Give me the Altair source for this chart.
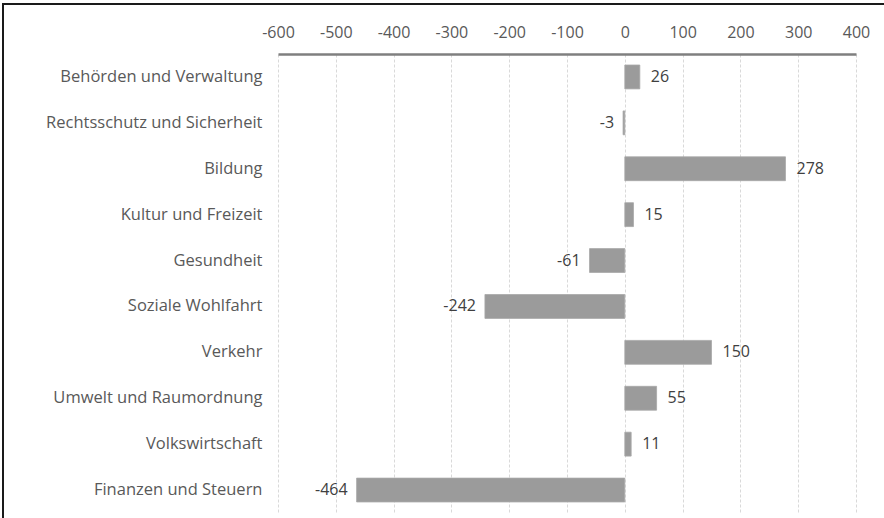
import altair as alt
import pandas as pd

# Change per policy area
categories = [
    "Behörden und Verwaltung",
    "Rechtsschutz und Sicherheit",
    "Bildung",
    "Kultur und Freizeit",
    "Gesundheit",
    "Soziale Wohlfahrt",
    "Verkehr",
    "Umwelt und Raumordnung",
    "Volkswirtschaft",
    "Finanzen und Steuern",
]
values = [26, -3, 278, 15, -61, -242, 150, 55, 11, -464]
x_ticks = [-600, -500, -400, -300, -200, -100, 0, 100, 200, 300, 400]

df = pd.DataFrame({"Bereich": categories, "Wert": values})

FONT = "Open Sans"
FS = 16
FS_CAT = 16.5
W, H = 578, 459

x_enc = alt.X(
    "Wert:Q",
    scale=alt.Scale(domain=[-600, 400], nice=False),
    axis=alt.Axis(
        orient="top",
        values=x_ticks,
        labelExpr="toString(datum.value)",
        labelFlush=False,
        labelOverlap=False,
        title=None,
        grid=True,
        gridColor="#d9d9d9",
        gridDash=[3, 2],
        gridWidth=1,
        domainColor="#7f7f7f",
        domainWidth=2.5,
        ticks=False,
        labelColor="#595959",
        labelFont=FONT,
        labelFontSize=FS,
        labelPadding=14,
    ),
)
y_enc = alt.Y(
    "Bereich:N",
    sort=categories,
    scale=alt.Scale(paddingInner=0.48, paddingOuter=0.24),
    axis=alt.Axis(
        title=None,
        domain=False,
        ticks=False,
        labelColor="#595959",
        labelFont=FONT,
        labelFontSize=FS_CAT,
        labelPadding=16,
        labelLimit=300,
    ),
)

base = alt.Chart(df).transform_calculate(Label="toString(datum.Wert)")

bars = base.mark_bar(color="#9b9b9b", stroke="#a8a8a8", strokeWidth=0.8).encode(
    x=x_enc, y=y_enc
)

labels_pos = base.transform_filter("datum.Wert >= 0").mark_text(
    align="left", dx=11, font=FONT, fontSize=FS, color="#404040"
).encode(x="Wert:Q", y=alt.Y("Bereich:N", sort=categories), text="Label:N")

labels_neg = base.transform_filter("datum.Wert < 0").mark_text(
    align="right", dx=-9, font=FONT, fontSize=FS, color="#404040"
).encode(x="Wert:Q", y=alt.Y("Bereich:N", sort=categories), text="Label:N")

# Frame along the top and left edge of the figure
frame_top = base.mark_rule(color="#1a1a1a", strokeWidth=2).encode(
    x=alt.value(-275), x2=alt.value(640), y=alt.value(-50)
)
frame_left = base.mark_rule(color="#1a1a1a", strokeWidth=2).encode(
    x=alt.value(-275), y=alt.value(-51), y2=alt.value(480)
)

chart = (
    alt.layer(bars, labels_pos, labels_neg, frame_top, frame_left)
    .properties(
        width=W,
        height=H,
        autosize=alt.AutoSizeParams(type="none"),
        padding={"left": 278, "top": 54, "right": 28, "bottom": 5},
        background="white",
    )
    .configure_view(stroke=None)
)

chart.save("out.html", embed_options={"renderer": "svg", "actions": False})
